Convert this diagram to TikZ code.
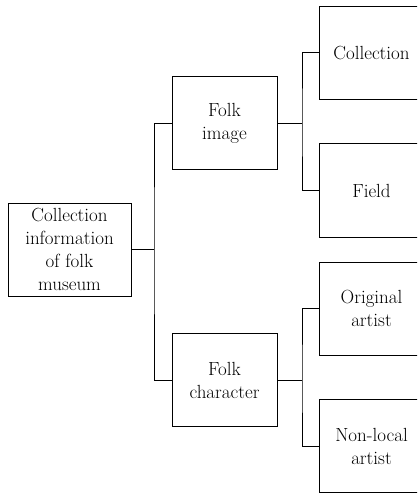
\documentclass[tikz,border=0pt]{standalone}
\begin{document}
\begin{tikzpicture}[x=1pt,y=-1pt,
  box/.style={draw=black, line width=1pt, minimum width=105pt, minimum height=93pt,
    align=center, inner sep=0pt, text=black, font=\rmfamily\fontsize{19}{23}\selectfont},
  link/.style={draw=black, line width=1pt}]
\clip (0,0) rectangle (417,494);
\fill[white] (0,0) rectangle (417,494);
\node[box, minimum width=123pt] (root) at (69.5,249.5) {Collection\\information\\of folk\\museum};
\node[box] (fi) at (224.5,123.5) {Folk\\image};
\node[box] (fc) at (224.5,380) {Folk\\character};
\node[box] (col) at (371.5,53) {Collection};
\node[box] (fld) at (371.5,190.5) {Field};
\node[box] (ori) at (371.5,308.5) {Original\\artist};
\node[box] (non) at (371.5,446) {Non-local\\artist};
\coordinate (j1) at (154,249.5);
\coordinate (j2) at (302,123.5);
\coordinate (j3) at (302,380);
\draw[link] (root.east) -- (j1);
\draw[link] (fi.west) -| (j1) |- (fc.west);
\draw[link] (fi.east) -- (j2);
\draw[link] (col.west) -| (j2) |- (fld.west);
\draw[link] (fc.east) -- (j3);
\draw[link] (ori.west) -| (j3) |- (non.west);
\end{tikzpicture}
\end{document}
